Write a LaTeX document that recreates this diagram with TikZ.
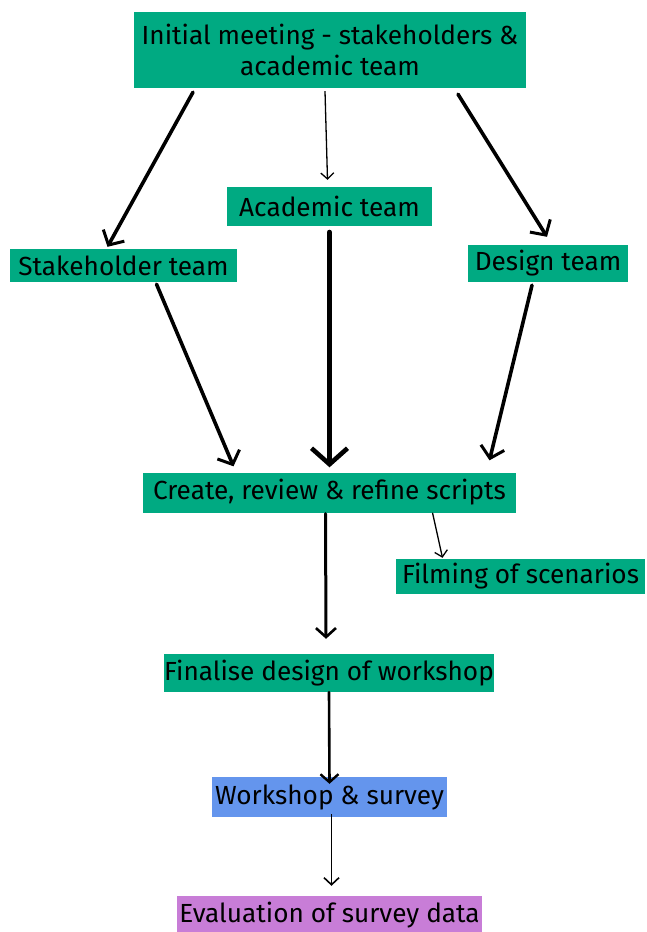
\documentclass[tikz,border=0pt]{standalone}
\usepackage{fontspec}
\setmainfont{Fira Sans}
\usetikzlibrary{arrows.meta,calc}

\definecolor{boxgreen}{RGB}{0,170,130}
\definecolor{boxblue}{RGB}{100,149,237}
\definecolor{boxpurple}{RGB}{200,125,215}

\tikzset{
	box/.style={fill=boxgreen, text=black, inner sep=0pt, align=center},
	arr/.style={-{Straight Barb[length=11pt, width=24pt, line width=3pt]}, line width=3.6pt, line cap=round},
	thinarr/.style={-{Straight Barb[length=6pt, width=13pt, line width=1.3pt]}, line width=1.3pt}
}

\begin{document}
\begin{tikzpicture}
			[
			x=1pt, y=-1pt, font=\fontsize{26.2}{31}\selectfont, >=latex
			%coordinates in pixels of the reference, y downwards
			]
			\useasboundingbox (0,0) rectangle (646,932);
			
			%boxes
			\node[box, minimum width=392pt, minimum height=76pt] (init) at (330,50) {Initial meeting - stakeholders \&\\academic team};
			\node[box, minimum width=205pt, minimum height=39pt] (acad) at (329.5,206.5) {Academic team};
			\node[box, minimum width=227pt, minimum height=33pt] (stake) at (123.5,265.5) {Stakeholder team};
			\node[box, minimum width=160pt, minimum height=37pt] (design) at (548,263.5) {Design team};
			\node[box, minimum width=373pt, minimum height=40pt] (create) at (329.5,492.5) {Create, review \& refine scripts};
			\node[box, minimum width=249pt, minimum height=35pt] (film) at (520.5,576.5) {Filming of scenarios};
			\node[box, minimum width=330pt, minimum height=38pt] (final) at (329,673) {Finalise design of workshop};
			\node[box, fill=boxblue, minimum width=235pt, minimum height=40pt] (work) at (329.5,797) {Workshop \& survey};
			\node[box, fill=boxpurple, minimum width=305pt, minimum height=38pt] (eval) at (329.5,915) {Evaluation of survey data};
			
			%arrows from the meeting
			\draw[arr] ($(init.south)+(-137,4)$) -- ($(stake.north)+(-16,-2)$);
			\draw[thinarr] ($(init.south)+(-5,3)$) -- ($(acad.north)+(-2,-7)$);
			\draw[arr] ($(init.south)+(128,6)$) -- ($(design.north)+(-1,-8)$);
			
			%arrows into the scripts
			\draw[arr] ($(stake.south)+(33,2)$) -- ($(create.north)+(-96,-6)$);
			\draw[arr, line width=5pt, -{Straight Barb[length=16pt, width=36pt, line width=4.6pt]}] ($(acad.south)+(0,6)$) -- ($(create.north)+(0,-5)$);
			\draw[arr] ($(design.south)+(-16,3)$) -- ($(create.north)+(160,-12)$);
			
			%after the scripts
			\draw[thinarr] ($(create.south)+(103,0)$) -- ($(film.north)+(-78,-1)$);
			\draw[arr, line width=3pt, -{Straight Barb[length=9pt, width=20pt, line width=2.6pt]}] ($(create.south)+(-4,1)$) -- ($(final.north)+(-3,-15)$);
			\draw[arr, line width=2.6pt, -{Straight Barb[length=8pt, width=18pt, line width=2.4pt]}] (final.south) -- ($(work.north)+(0,7)$);
			\draw[thinarr, line width=1.6pt, -{Straight Barb[length=7pt, width=15pt, line width=1.6pt]}] ($(work.south)+(2,-3)$) -- ($(eval.north)+(2,-10)$);
		\end{tikzpicture}
\end{document}
